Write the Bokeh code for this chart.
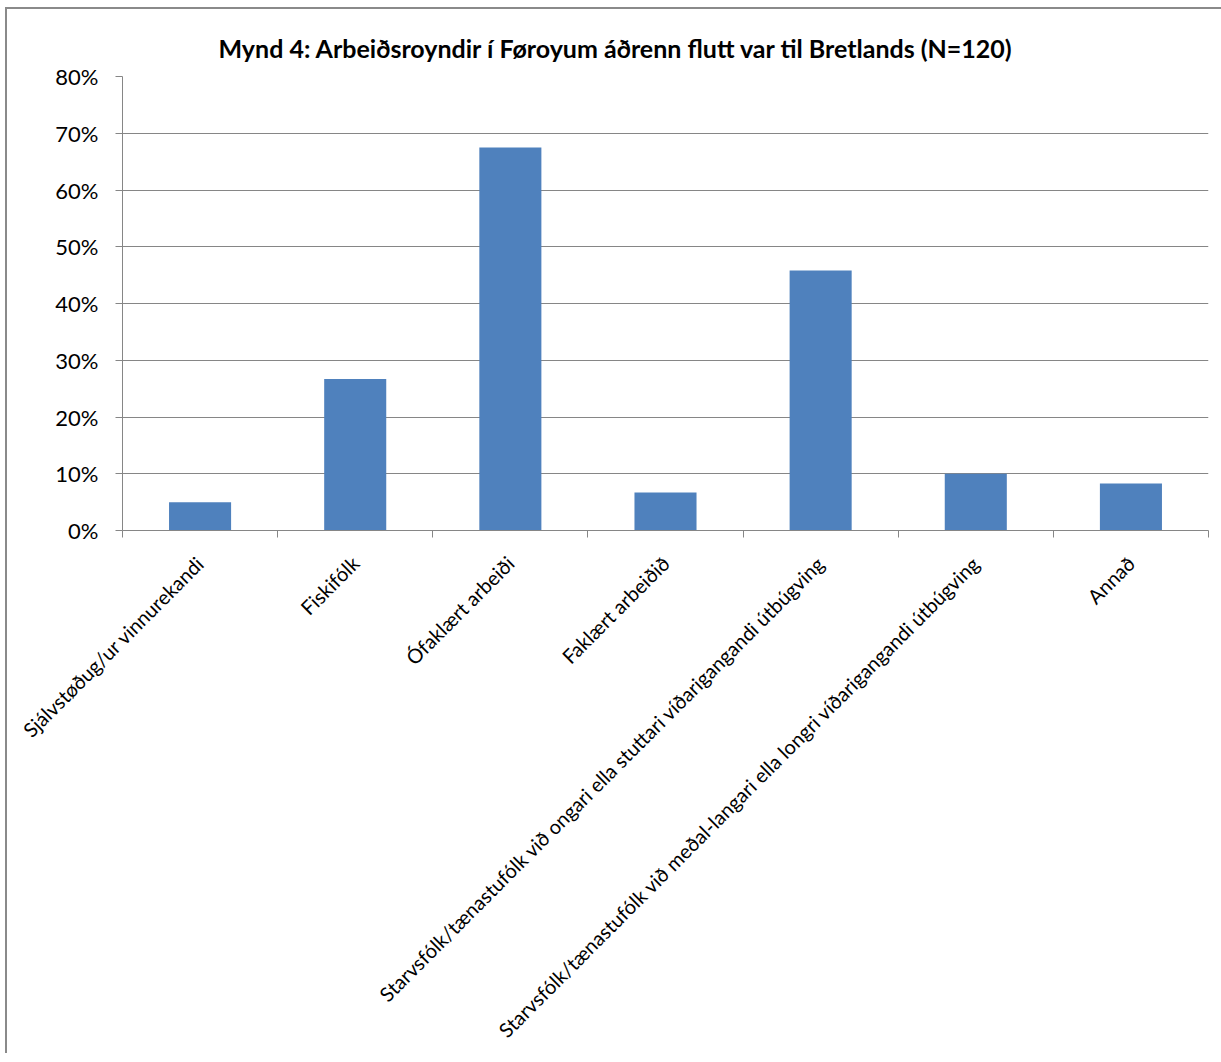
import numpy as np
from math import pi
from bokeh.plotting import figure
from bokeh.models import Range1d, FixedTicker, NumeralTickFormatter, Title
from bokeh.embed import file_html
from bokeh.resources import INLINE

title_text = "Mynd 4: Arbeiðsroyndir í Føroyum áðrenn flutt var til Bretlands (N=120)"
categories = [
    "Sjálvstøðug/ur vinnurekandi",
    "Fiskifólk",
    "Ófaklært arbeiði",
    "Faklært arbeiðið",
    "Starvsfólk/tænastufólk við ongari ella stuttari víðarigangandi útbúgving",
    "Starvsfólk/tænastufólk við meðal-langari ella longri víðarigangandi útbúgving",
    "Annað",
]
values = [0.05, 0.267, 0.675, 0.067, 0.458, 0.10, 0.083]
y_ticks = [0.0, 0.1, 0.2, 0.3, 0.4, 0.5, 0.6, 0.7, 0.8]

n = len(categories)
xs = np.arange(n) + 0.5

FONT = "Lato"
GRAY = "#868686"

p = figure(
    width=1214, height=1053,
    x_range=Range1d(0, n), y_range=Range1d(0, 0.8),
    output_backend="svg", toolbar_location=None,
    min_border_left=115, min_border_right=13, min_border_top=67, min_border_bottom=10,
    frame_width=1086, frame_height=454,
    styles={"border-left": "2px solid #8a8a8a", "border-top": "2px solid #8a8a8a",
            "margin-left": "5px", "margin-top": "7px"},
)
p.outline_line_color = None
p.background_fill_color = "white"
p.border_fill_color = "white"

t = Title(text=title_text, align="left", offset=96,
          text_font=FONT, text_font_size="25px", text_font_style="bold",
          text_color="black", standoff=27)
p.add_layout(t, "above")

p.vbar(x=xs, top=values, width=0.4, fill_color="#4F81BD", line_color=None)

# y axis
p.yaxis.ticker = FixedTicker(ticks=y_ticks)
p.yaxis.formatter = NumeralTickFormatter(format="0%")
p.yaxis.major_label_text_font = FONT
p.yaxis.major_label_text_font_size = "22px"
p.yaxis.major_label_text_color = "black"
p.yaxis.axis_line_color = GRAY
p.yaxis.major_tick_line_color = GRAY
p.yaxis.major_tick_out = 7
p.yaxis.major_tick_in = 0
p.yaxis.minor_tick_line_color = None
p.yaxis.major_label_standoff = 17

# x axis
p.xaxis.ticker = FixedTicker(ticks=list(xs), minor_ticks=list(range(n + 1)))
p.xaxis.major_label_overrides = {float(x): c for x, c in zip(xs, categories)}
p.xaxis.major_label_orientation = pi / 4
p.xaxis.major_label_text_font = FONT
p.xaxis.major_label_text_font_size = "20px"
p.xaxis.major_label_text_color = "black"
p.xaxis.axis_line_color = GRAY
p.xaxis.major_tick_line_color = None
p.xaxis.major_tick_out = 0
p.xaxis.major_tick_in = 0
p.xaxis.minor_tick_line_color = GRAY
p.xaxis.minor_tick_out = 7
p.xaxis.minor_tick_in = 0
p.xaxis.major_label_standoff = 22

p.xgrid.grid_line_color = None
p.ygrid.grid_line_color = GRAY
p.ygrid.grid_line_width = 1

open("out.html", "w").write(file_html(p, INLINE))
